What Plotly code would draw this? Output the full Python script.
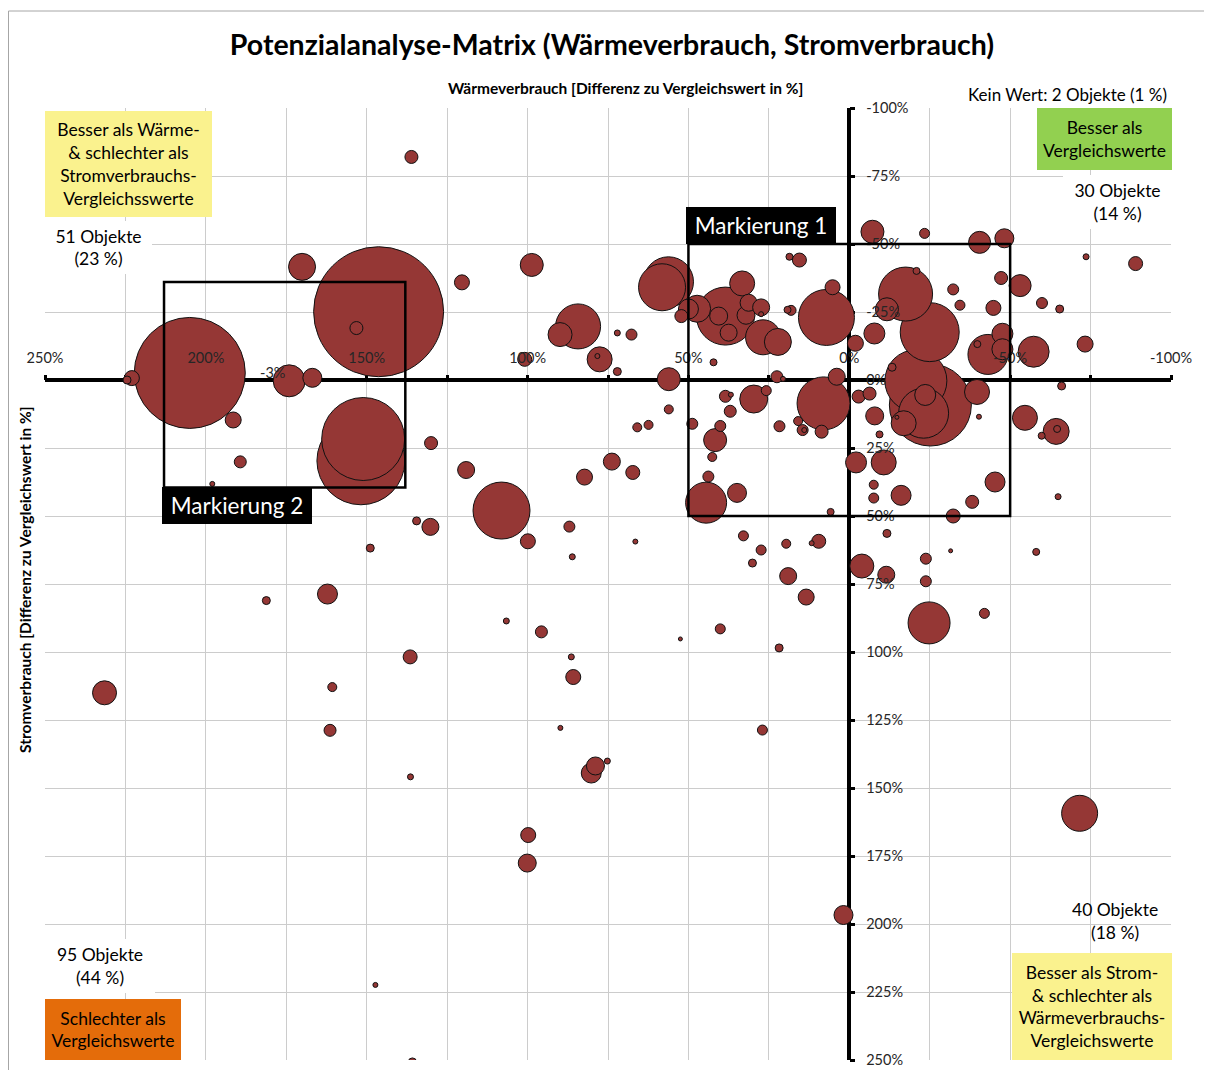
"""
Potenzialanalyse-Matrix: Wärme- vs. Stromverbrauch als Blasendiagramm.

Achsen schneiden sich bei 0 %, beide Achsen laufen umgekehrt (besser = oben rechts).
"""

import pandas as pd
import plotly.graph_objects as go

# Abweichung Wärmeverbrauch vom Vergleichswert [%]
waerme = [
    205, 223, 224.5, 191.5, 189.3, 198, 174.1, 166.9, 170.1, 146.3,
    153.2, 151.8, 151.1, 130, 120.4, 119.1, 108.1, 130.2, 134.5, 148.9,
    98.7, 100.9, 84.3, 89.9, 77.6, 78.3, 72.1, 67.7, 72.1, 56.1,
    56.1, 65.9, 62.4, 73.8, 67.3, 82.3, 99.9, 87, 86.1, 66.5,
    56.2, 58.2, 52.2, 50, 47.3, 38.5, 33.3, 40.6, 37.5, 31.3,
    32.1, 27.4, 27.4, 26.8, 22.2, 18.6, 15.5, 19.2, 18.1, 7.1,
    5.2, -1.9, 42.2, 22.5, 20.6, 8, 3.9, 48.8, 38.5, 36.8,
    29.7, 25.8, 37, 40.1, 41.7, 42.6, 43.8, 44.5, 34.9, 21.7,
    15.9, 14.5, 14, 8.6, 5.8, 32.9, 27.4, 30.1, 19.6, 9.5,
    11.7, 19, 13.4, 40.1, 21.8, 27, 52.5, 106.6, 95.7, 86.4,
    85.8, 89.8, 75.2, 78.9, 80.2, 99.8, 100.1, 1.8, -71.6, 136.1,
    231.5, 162.2, 181.2, 136.5, 160.7, 161.4, 136.4, 147.3, 135.8, -7.2,
    -23.4, -40.5, -48.2, -11.7, -17.5, -20.9, -32.3, -34.4, -44.8, -47.2,
    -53.1, -59.9, -65.4, -73.6, -89, -7.8, -20.7, -25, -13.3, -25.2,
    -23.1, -23.6, -16.9, -14.8, -43.1, -39.8, -47.6, -47.6, -57.3, -73.3,
    -39.7, -40.3, -7.9, -9.4, -2.9, -6.3, -54.6, -64.3, -64.6, -59.8,
    -66, -2.1, -10.7, -7.6, -7.6, -16.1, -45.3, -38.2, -32.3, -64.9,
    -11.7, -3.9, -11.5, -23.8, -23.8, -31.5, -58.1, -24.8, -42,
]

# Abweichung Stromverbrauch vom Vergleichswert [%]
strom = [
    -2.6, -0.7, 0, 14.7, 30.1, 38.2, 0.3, -0.8, -41.6, -25.1,
    -19.1, 29.7, 21.7, 23.2, -35.9, 33.1, 48, 54, 51.8, 61.8,
    -42.3, -7.6, -19.7, -16.7, -7.6, -8.8, -17.3, -16.7, -3.1, -0.3,
    10.8, 17.4, 16.5, 30, 34, 35.7, 59.3, 53.9, 65, 59.4,
    -36.1, -34.1, -23.5, -26.1, -26.2, -23.5, -35.5, -23.5, -17.4, -28.4,
    -23.8, -26.7, -24.2, -15.7, -14, -45.3, -44.1, -25.8, -25.6, -23,
    -34.1, -13.5, -6.5, -1.2, -0.4, 8.6, -1.2, 16.1, 6, 5.4,
    7, 3.9, 11.5, 16.9, 22.1, 28.3, 35.5, 45.1, 41.5, 17,
    15.1, 18.4, 18.4, 19, 48.5, 57.3, 62.5, 67.3, 60.2, 59.3,
    60, 72.1, 79.8, 91.5, 98.5, 128.7, 95.2, 88.6, 92.6, 101.8,
    109.2, 127.9, 140.1, 141.9, 144.5, 167.3, 177.6, 196.7, 159.3, -82,
    115, 78.7, 81.1, 101.8, 112.9, 128.8, 145.9, 222.4, 250.7, -54.5,
    -53.9, -50.6, -52.1, -26, -31.6, -40.1, -33.3, -27.5, -26.5, -37.5,
    -34.7, -28.3, -26.1, -45.3, -42.8, -17.1, 0.3, -17.6, -4.7, 9.2,
    12.2, 5.5, 15.9, 13.7, -9.4, -13.2, -17, -11.3, -10.4, -13.2,
    4.4, 13.5, 13.2, 20, 6.1, 5, 13.9, 18.9, 18, 20.5,
    2.2, 30.3, 30.3, 38.5, 43.4, 42.4, 37.5, 44.8, 50, 42.9,
    56.4, 68.4, 71.6, 65.7, 74, 62.8, 63.2, 89.3, 85.8,
]

# Blasengröße (Bezugsfläche, relative Einheiten)
flaeche = [
    12321, 225, 64, 256, 144, 25, 1024, 361, 729, 16900,
    169, 7744, 6889, 169, 225, 289, 3249, 289, 64, 64,
    529, 196, 2025, 576, 625, 25, 36, 121, 64, 529,
    81, 81, 81, 289, 196, 256, 225, 121, 36, 25,
    2500, 2209, 169, 400, 729, 3364, 625, 324, 289, 289,
    324, 289, 25, 1225, 729, 49, 196, 49, 100, 3136,
    225, 256, 49, 144, 25, 2809, 289, 121, 144, 25,
    784, 100, 144, 121, 529, 81, 121, 1681, 361, 121,
    81, 121, 25, 169, 49, 100, 100, 64, 81, 196,
    25, 289, 256, 100, 64, 100, 16, 36, 144, 36,
    225, 25, 36, 324, 400, 225, 324, 361, 1296, 169,
    576, 400, 64, 196, 81, 144, 36, 25, 64, 529,
    100, 484, 361, 529, 2916, 49, 121, 100, 225, 169,
    484, 121, 64, 36, 196, 441, 3844, 3481, 64, 6724,
    2500, 441, 625, 9, 1600, 49, 441, 441, 961, 256,
    625, 25, 324, 49, 169, 169, 625, 676, 49, 49,
    64, 441, 625, 81, 100, 400, 400, 169, 196, 36,
    64, 576, 289, 121, 121, 4, 49, 1764, 100,
]

# markierte Bereiche (Wärme von/bis, Strom von/bis) in %
markierung_1 = (50, -50, -50, 50)
markierung_2 = (213, 138, -36, 39.5)

x_ticks = list(range(250, -101, -50))
y_ticks = list(range(-100, 251, 25))

FONT = "Lato, 'Open Sans', sans-serif"
BUBBLE = "#953735"
GRID = "#cccccc"
TXT = "#262626"
TEXT_SIZE = 17.5

# Seite hat 8 px Rand: Figur etwas kleiner, Plotfläche liegt bei (45,108)-(1171,1060)
OFF = 8
W, H = 1212 - OFF, 1070 - OFF
L, T = 45 - OFF, 108 - OFF
PW, PH = 1126, 952
R, B = W - L - PW, H - T - PH
X_RANGE = [250, -100]
Y_RANGE = [250, -100]


def px_x(px: float) -> float:
    """Seitenpixel (x) -> Anteil der Plotfläche."""
    return (px - OFF - L) / PW


def px_y(py: float) -> float:
    """Seitenpixel (y) -> Anteil der Plotfläche."""
    return (T + PH - (py - OFF)) / PH


df = pd.DataFrame({"waerme": waerme, "strom": strom, "flaeche": flaeche})
df = df.sort_values("flaeche", ascending=False, kind="stable")

fig = go.Figure()
fig.add_trace(
    go.Scatter(
        x=df["waerme"],
        y=df["strom"],
        mode="markers",
        marker=dict(
            size=df["flaeche"],
            sizemode="area",
            sizeref=2.0 * max(flaeche) / 130**2,
            sizemin=2,
            color=BUBBLE,
            opacity=1,
            line=dict(color="#111111", width=1),
        ),
        hovertemplate="Wärme: %{x}%<br>Strom: %{y}%<extra></extra>",
        showlegend=False,
    )
)
# leere Spur für die Beschriftungsachsen (liegen über den Blasen)
fig.add_trace(go.Scatter(x=[None], y=[None], xaxis="x2", yaxis="y2",
                         showlegend=False, hoverinfo="skip"))

# Lage der Achsenkreuzung (0 %) als Anteil der Plotfläche
pos_x_axis = (X_RANGE[0] - 0) / (X_RANGE[0] - X_RANGE[1])
pos_y_axis = (Y_RANGE[0] - 0) / (Y_RANGE[0] - Y_RANGE[1])

tick_style = dict(ticks="outside", ticklen=5, tickwidth=3, tickcolor="black")

# Grundachsen: Gitter, Nulllinien, Striche -> unter den Blasen
base = dict(
    showticklabels=False,
    showgrid=True,
    gridcolor=GRID,
    gridwidth=1.4,
    showline=False,
    zeroline=True,
    zerolinecolor="black",
    zerolinewidth=4,
    layer="below traces",
    automargin=False,
    **tick_style,
)
# Beschriftungsachsen: nur Texte -> über den Blasen
labels = dict(
    ticks="outside",
    ticklen=5,
    tickcolor="rgba(0,0,0,0)",
    tickfont=dict(family=FONT, size=14.5, color=TXT),
    showgrid=False,
    zeroline=False,
    showline=False,
    layer="above traces",
    automargin=False,
    tickmode="array",
)

fig.update_layout(
    xaxis=dict(
        range=X_RANGE, anchor="free", position=pos_y_axis, side="top",
        tickmode="array", tickvals=x_ticks,
        minor=dict(tick0=0, dtick=25, showgrid=True, gridcolor=GRID, gridwidth=1.4,
                   **tick_style),
        **base,
    ),
    yaxis=dict(
        range=Y_RANGE, anchor="free", position=pos_x_axis, side="right",
        tickmode="array", tickvals=y_ticks,
        **base,
    ),
    xaxis2=dict(
        range=X_RANGE, overlaying="x", anchor="free", position=pos_y_axis, side="top",
        tickvals=x_ticks, ticktext=[f"{v}%" for v in x_ticks], ticklabelstandoff=6,
        **labels,
    ),
    yaxis2=dict(
        range=Y_RANGE, overlaying="y", anchor="free", position=pos_x_axis, side="right",
        tickvals=y_ticks, ticktext=[f"{v}%" for v in y_ticks], ticklabelstandoff=8,
        **labels,
    ),
)

# Markierungen
for (x0, x1, y0, y1) in (markierung_1, markierung_2):
    fig.add_shape(
        type="rect", xref="x", yref="y", x0=x0, x1=x1, y0=y0, y1=y1,
        line=dict(color="black", width=2.5), layer="above",
    )

# Rahmen des Diagrammbereichs (oben, links)
fig.add_shape(type="line", xref="paper", yref="paper", x0=px_x(8.5), x1=px_x(1215),
              y0=px_y(11), y1=px_y(11), line=dict(color="#a6a6a6", width=1))
fig.add_shape(type="line", xref="paper", yref="paper", x0=px_x(8.5), x1=px_x(8.5),
              y0=px_y(11), y1=px_y(1075), line=dict(color="#a6a6a6", width=1))

ann = []


def box(text, x0, x1, y0, y1, bg, size=TEXT_SIZE):
    ann.append(dict(
        text=text, xref="paper", yref="paper", x=px_x(x0), y=px_y(y0),
        xanchor="left", yanchor="top", width=x1 - x0, height=y1 - y0,
        bgcolor=bg, borderpad=0, borderwidth=0, showarrow=False, align="center",
        valign="middle", font=dict(family=FONT, size=size, color="black"),
    ))


def label(text, cx, cy, size=TEXT_SIZE, **kw):
    d = dict(
        text=text, xref="paper", yref="paper", x=px_x(cx), y=px_y(cy),
        xanchor="center", yanchor="middle", showarrow=False, align="center",
        font=dict(family=FONT, size=size, color="black"),
    )
    d.update(kw)
    ann.append(d)


box("Besser als Wärme-<br>&amp; schlechter als<br>Stromverbrauchs-<br>Vergleichsswerte",
    45, 212, 111, 217, "#faf28e")
box("Besser als<br>Vergleichswerte", 1037, 1172, 108, 170, "#92d050")
box("Besser als Strom-<br>&amp; schlechter als<br>Wärmeverbrauchs-<br>Vergleichswerte",
    1012, 1172, 953, 1060, "#faf28e")
box("Schlechter als<br>Vergleichswerte", 45, 181, 999, 1060, "#e46c0a")

box("51 Objekte<br>(23 %)", 45, 152, 221, 274, "white")
box("30 Objekte<br>(14 %)", 1063, 1172, 175, 229, "white")
box("95 Objekte<br>(44 %)", 45, 155, 939, 993, "white")
label("40 Objekte<br>(18 %)", 1115, 921)
label("Kein Wert: 2 Objekte (1 %)", 1067, 94, size=17)

# Achsentitel
label("<b>Wärmeverbrauch [Differenz zu Vergleichswert in %]</b>", 625, 88, size=15.5)
label("<b>Stromverbrauch [Differenz zu Vergleichswert in %]</b>", 25, 580, size=15.5,
      textangle=-90)

# Beschriftungen der Markierungen
for name, (x0, x1, y0, y1), yanchor, yy in (
    ("Markierung 1", markierung_1, "bottom", markierung_1[2]),
    ("Markierung 2", markierung_2, "top", markierung_2[3]),
):
    ann.append(dict(
        text=name, xref="x", yref="y", x=x0, y=yy, xanchor="left", yanchor=yanchor,
        showarrow=False, bgcolor="black", borderpad=6, borderwidth=0, width=138,
        height=25, xshift=-2, font=dict(family=FONT, size=22.5, color="white"),
    ))

# Datenbeschriftung der größten Blase links
ann.append(dict(
    text=f"{strom[0]:.0f}%", xref="x", yref="y", x=waerme[0], y=strom[0],
    xanchor="center", yanchor="middle", xshift=83, showarrow=False,
    font=dict(family=FONT, size=14.5, color=TXT),
))

fig.update_layout(
    width=W,
    height=H,
    margin=dict(l=L, r=R, t=T, b=B, autoexpand=False),
    paper_bgcolor="white",
    plot_bgcolor="white",
    font=dict(family=FONT, color=TXT),
    title=dict(
        text="Potenzialanalyse-Matrix (Wärmeverbrauch, Stromverbrauch)",
        x=(612 - OFF) / W, xanchor="center", y=1 - (45 - OFF) / H, yanchor="middle",
        font=dict(family=FONT, size=28.5, color="black", weight="bold"),
    ),
    annotations=ann,
    showlegend=False,
)

fig.write_html("out.html")
